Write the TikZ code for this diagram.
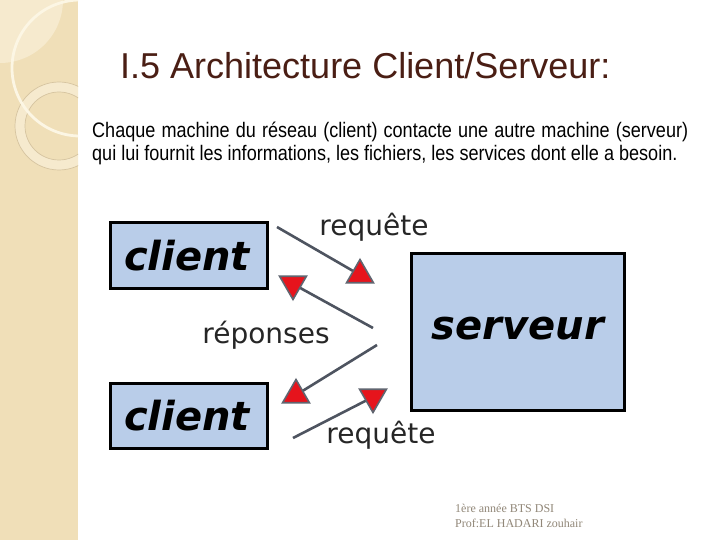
\documentclass[tikz,border=0pt]{standalone}
\usepackage{fontspec}
\usetikzlibrary{shapes.geometric}
\setmainfont{Liberation Sans}
\newfontfamily\titlefont{Liberation Sans}
\newfontfamily\bodyfont{Liberation Sans}[FakeStretch=0.86]
\newfontfamily\diafont{DejaVu Sans}
\newfontfamily\footfont{Liberation Serif}
\definecolor{panel}{RGB}{240,223,184}
\definecolor{panellight}{RGB}{246,234,206}
\definecolor{ringline}{RGB}{214,196,160}
\definecolor{cream}{RGB}{252,246,228}
\definecolor{titlecol}{RGB}{74,30,20}
\definecolor{boxblue}{RGB}{185,205,233}
\definecolor{linecol}{RGB}{78,84,96}
\definecolor{tricol}{RGB}{230,20,28}
\definecolor{footcol}{RGB}{145,135,120}
\tikzset{
  box/.style={draw=black, line width=3pt, fill=boxblue},
  boxtext/.style={font=\diafont\bfseries\itshape\fontsize{40}{44}\selectfont, inner sep=0pt, anchor=base},
  lbl/.style={font=\diafont\fontsize{28}{32}\selectfont, text=black!85, inner sep=0pt, anchor=base},
  conn/.style={draw=linecol, line width=2.6pt},
  triup/.style={regular polygon, regular polygon sides=3, minimum size=31pt, inner sep=0pt, fill=tricol, draw=linecol!90, line width=1.6pt},
  tridown/.style={triup, shape border rotate=180}
}
\begin{document}
\begin{tikzpicture}[x=1pt,y=-1pt]
\useasboundingbox (0,0) rectangle (720,540);
\fill[white] (0,0) rectangle (720,540);
% left decorative panel
\begin{scope}
\clip (0,0) rectangle (78,540);
\fill[panel] (0,0) rectangle (78,540);
\fill[panellight] (0,0) circle[radius=63];
\fill[panellight, even odd rule] (59,126) circle[radius=44] (59,126) circle[radius=34];
\draw[ringline, line width=0.7pt] (59,126) circle[radius=44];
\draw[ringline, line width=0.7pt] (59,126) circle[radius=34];
\draw[cream, line width=2.8pt] (80,68) circle[radius=68];
\end{scope}
% title
\node[font=\titlefont\fontsize{36}{40}\selectfont, text=titlecol, anchor=base west, inner sep=0pt] (title) at (120,79) {I.5 Architecture Client/Serveur:};
% body text
\node[font=\bodyfont\fontsize{21}{23}\selectfont, anchor=base west, inner sep=0pt] (line1) at (92,138) {\makebox[596pt][s]{Chaque machine du réseau (client) contacte une autre machine (serveur)}};
\node[font=\bodyfont\fontsize{21}{23}\selectfont, anchor=base west, inner sep=0pt] (line2) at (92,161) {qui lui fournit les informations, les fichiers, les services dont elle a besoin.};
% boxes
\draw[box] (110,223) rectangle (267,288);
\node[boxtext] (client1) at (187,270) {client};
\draw[box] (110,383) rectangle (267,448);
\node[boxtext] (client2) at (187,430) {client};
\draw[box] (411,253) rectangle (624,410);
\node[boxtext] (serveur) at (518,339) {serveur};
% connectors
\coordinate (s1) at (277,227);
\coordinate (t1) at (360,275);
\coordinate (s2) at (373,328);
\coordinate (t2) at (293,284);
\coordinate (s3) at (377,345);
\coordinate (t3) at (296,395);
\coordinate (s4) at (293,438);
\coordinate (t4) at (373,397);
\draw[conn] (s1) -- (t1);
\draw[conn] (s2) -- (t2);
\draw[conn] (s3) -- (t3);
\draw[conn] (s4) -- (t4);
\node[triup] (h1) at (t1) {};
\node[tridown] (h2) at (t2) {};
\node[triup] (h3) at (t3) {};
\node[tridown] (h4) at (t4) {};
% labels
\node[lbl] (req1) at (374,236) {requête};
\node[lbl] (rep) at (266,343) {réponses};
\node[lbl] (req2) at (381,443) {requête};
% footer
\node[font=\footfont\fontsize{12}{14}\selectfont, text=footcol, anchor=base west, inner sep=0pt] (foot1) at (455,512) {1ère année BTS DSI};
\node[font=\footfont\fontsize{12}{14}\selectfont, text=footcol, anchor=base west, inner sep=0pt] (foot2) at (455,527) {Prof:EL HADARI zouhair};
\end{tikzpicture}
\end{document}
